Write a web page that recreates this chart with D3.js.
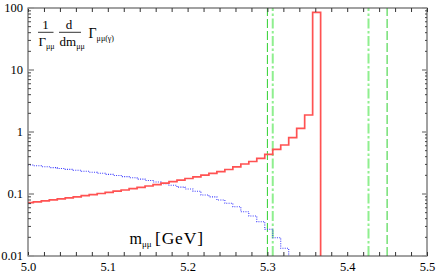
<!DOCTYPE html>
<html>
<head>
<meta charset="utf-8">
<script src="https://cdn.jsdelivr.net/npm/d3@7"></script>
<style>
  body { margin: 0; background: #fff; }
  svg { display: block; }
  text { font-family: "Liberation Serif", "DejaVu Serif", serif; fill: #000; }
</style>
</head>
<body>
<svg id="chart" width="436" height="275"></svg>
<script>
// bins of 0.01 GeV, last red bin ends at 5.3667
const binStart = 4.9967;
const binWidth = 0.01;

const redValues = [
  0.0724, 0.0748, 0.0777, 0.0806, 0.0837, 0.0868, 0.0901, 0.0939, 0.0978, 0.1019,
  0.1061, 0.1110, 0.1160, 0.1218, 0.1278, 0.1346, 0.1418, 0.1499, 0.1585, 0.1676,
  0.1778, 0.1894, 0.2017, 0.2157, 0.2289, 0.2484, 0.2747, 0.3047, 0.3343, 0.3764,
  0.4368, 0.5260, 0.6170, 0.809, 1.147, 1.880, 85.2
];

const blueValues = [
  0.2936, 0.2850, 0.2757, 0.2666, 0.2578, 0.2493, 0.2411, 0.2323, 0.2239, 0.2157,
  0.2071, 0.1988, 0.1909, 0.1825, 0.1739, 0.1651, 0.1561, 0.1471, 0.1381, 0.1292,
  0.1204, 0.1110, 0.0964, 0.0898, 0.0800, 0.0708, 0.0624, 0.0518, 0.0442, 0.0357,
  0.0270, 0.0197, 0.0133
];

const dashedLines = [5.30, 5.45];
const dashDotLines = [5.3067, 5.4267];

const xDomain = [5.0, 5.5];
const yDomain = [0.01, 100];

const width = 436, height = 275;
const margin = {left: 28, right: 9, top: 8, bottom: 19};

const svg = d3.select('#chart');

const x = d3.scaleLinear(xDomain, [margin.left, width - margin.right]);
const y = d3.scaleLog(yDomain, [height - margin.bottom, margin.top]);

svg.append('clipPath').attr('id', 'plotclip')
  .append('rect')
  .attr('x', x(xDomain[0])).attr('y', y(yDomain[1]))
  .attr('width', x(xDomain[1]) - x(xDomain[0]))
  .attr('height', y(yDomain[0]) - y(yDomain[1]));

const plot = svg.append('g').attr('clip-path', 'url(#plotclip)');

// vertical reference lines
plot.selectAll('line.dash')
  .data(dashedLines)
  .enter().append('line')
  .attr('class', 'dash')
  .attr('x1', d => x(d)).attr('x2', d => x(d))
  .attr('y1', y(yDomain[0])).attr('y2', y(yDomain[1]))
  .attr('stroke', '#2fd02f')
  .attr('stroke-width', 1)
  .attr('stroke-dasharray', '9,3');

plot.selectAll('line.dashdot')
  .data(dashDotLines)
  .enter().append('line')
  .attr('class', 'dashdot')
  .attr('x1', d => x(d)).attr('x2', d => x(d))
  .attr('y1', y(yDomain[0])).attr('y2', y(yDomain[1]))
  .attr('stroke', '#8fef8f')
  .attr('stroke-width', 2)
  .attr('stroke-dasharray', '10,2.5,2.5,2.5');

function stepPoints(vals) {
  let pts = vals.map((v, i) => [binStart + i * binWidth, v]);
  let end = binStart + vals.length * binWidth;
  pts.push([end, vals[vals.length - 1]]);
  pts.push([end, yDomain[0]]);
  return pts;
}

const line = d3.line()
  .x(d => x(d[0]))
  .y(d => y(d[1]))
  .curve(d3.curveStepAfter);

plot.append('path')
  .attr('d', line(stepPoints(blueValues)))
  .attr('fill', 'none')
  .attr('stroke', '#3a3aff')
  .attr('stroke-width', 1.1)
  .attr('stroke-dasharray', '1,1.3');

plot.append('path')
  .attr('d', line(stepPoints(redValues)))
  .attr('fill', 'none')
  .attr('stroke', '#ff5252')
  .attr('stroke-width', 1.7);

// frame
svg.append('rect')
  .attr('x', x(xDomain[0])).attr('y', y(yDomain[1]))
  .attr('width', x(xDomain[1]) - x(xDomain[0]))
  .attr('height', y(yDomain[0]) - y(yDomain[1]))
  .attr('fill', 'none')
  .attr('stroke', '#444')
  .attr('stroke-width', 1);

// x ticks (every 0.02, labels at 0.1)
const xTicks = x.ticks(25);
const isTenth = d => Math.abs(d * 10 - Math.round(d * 10)) < 1e-6;

svg.append('g')
  .attr('transform', `translate(0,${y(yDomain[0])})`)
  .call(d3.axisBottom(x).tickValues(xTicks).tickSizeInner(-4).tickSizeOuter(0).tickPadding(6)
    .tickFormat(d => isTenth(d) ? d3.format('.1f')(d) : ''))
  .call(g => g.select('.domain').remove())
  .call(g => g.selectAll('line').attr('stroke', '#333'))
  .call(g => g.selectAll('text').attr('font-size', 12.5).attr('font-family', '"Liberation Serif", serif'));

svg.append('g')
  .attr('transform', `translate(0,${y(yDomain[1])})`)
  .call(d3.axisTop(x).tickValues(xTicks).tickSizeInner(-4).tickSizeOuter(0).tickFormat(''))
  .call(g => g.select('.domain').remove())
  .call(g => g.selectAll('line').attr('stroke', '#333'));

// y ticks (log)
const yTicks = y.ticks();
const isDecade = d => Math.abs(Math.log10(d) - Math.round(Math.log10(d))) < 1e-6;

const left = svg.append('g');
left.selectAll('line')
  .data(yTicks)
  .enter().append('line')
  .attr('x1', x(xDomain[0]))
  .attr('x2', d => x(xDomain[0]) + (isDecade(d) ? 6 : 3))
  .attr('y1', d => y(d)).attr('y2', d => y(d))
  .attr('stroke', d => isDecade(d) ? '#999' : '#444')
  .attr('stroke-width', d => isDecade(d) ? 1.6 : 1);

left.selectAll('text')
  .data(yTicks.filter(isDecade))
  .enter().append('text')
  .attr('x', x(xDomain[0]) - 5)
  .attr('y', d => y(d))
  .attr('dy', '0.35em')
  .attr('text-anchor', 'end')
  .attr('font-size', 12.5)
  .text(d => String(d));

const right = svg.append('g');
right.selectAll('line')
  .data(yTicks)
  .enter().append('line')
  .attr('x1', x(xDomain[1]))
  .attr('x2', d => x(xDomain[1]) - (isDecade(d) ? 5 : 2))
  .attr('y1', d => y(d)).attr('y2', d => y(d))
  .attr('stroke', d => isDecade(d) ? '#999' : '#444')
  .attr('stroke-width', d => isDecade(d) ? 1.6 : 1);

// formula label
const lab = svg.append('g');
lab.append('text').attr('x', 45.5).attr('y', 29.3).attr('text-anchor', 'middle').attr('font-size', 13).text('1');
lab.append('line').attr('x1', 38).attr('x2', 53.5).attr('y1', 32.3).attr('y2', 32.3).attr('stroke', '#000').attr('stroke-width', 0.8);
const g1 = lab.append('text').attr('x', 38.5).attr('y', 45.7).attr('font-size', 13);
g1.append('tspan').text('Γ');
g1.append('tspan').attr('font-size', 8).attr('dy', 3).text('μμ');

lab.append('text').attr('x', 69).attr('y', 29.3).attr('text-anchor', 'middle').attr('font-size', 13).text('d');
lab.append('line').attr('x1', 59).attr('x2', 81).attr('y1', 32.3).attr('y2', 32.3).attr('stroke', '#000').attr('stroke-width', 0.8);
const g2 = lab.append('text').attr('x', 59.5).attr('y', 45.7).attr('font-size', 13);
g2.append('tspan').text('dm');
g2.append('tspan').attr('font-size', 8).attr('dy', 3).text('μμ');

const g3 = lab.append('text').attr('x', 88.5).attr('y', 37.7).attr('font-size', 14);
g3.append('tspan').text('Γ');
g3.append('tspan').attr('font-size', 8).attr('dy', 3).text('μμ(γ)');

// x axis title
const xt = svg.append('text').attr('x', 129.5).attr('y', 244).attr('font-size', 16);
xt.append('tspan').text('m');
xt.append('tspan').attr('font-size', 9).attr('dy', 3).text('μμ');
svg.append('text').attr('x', 155).attr('y', 244).attr('font-size', 17.5)
  .attr('textLength', 48).attr('lengthAdjust', 'spacing').text('[GeV]');
</script>
</body>
</html>
